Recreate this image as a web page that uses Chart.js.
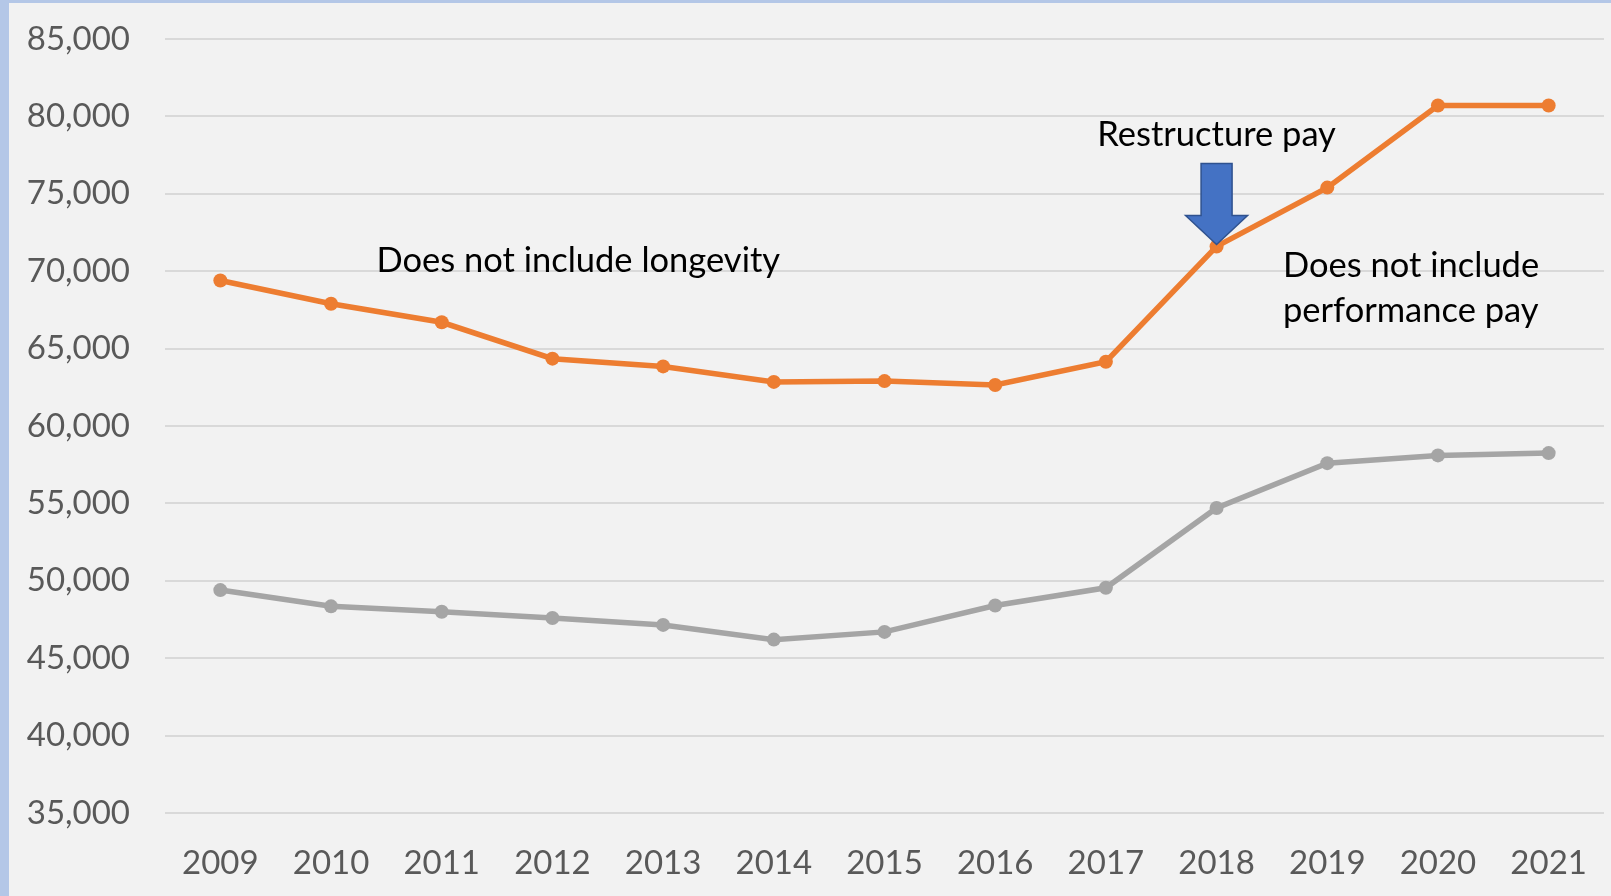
<!DOCTYPE html>
<html>
<head>
<meta charset="utf-8">
<script src="https://cdn.jsdelivr.net/npm/chart.js@4"></script>
<style>
  html, body { margin: 0; padding: 0; background: #b4c7e7; overflow: hidden; }
  #wrap { position: absolute; left: 9px; top: 3px; width: 1602px; height: 893px; background: #f2f2f2; }
  canvas { display: block; }
</style>
</head>
<body>
<div id="wrap"><canvas id="pay-chart" width="1602" height="893"></canvas></div>
<script>
// years on the x axis
let years = ['2009', '2010', '2011', '2012', '2013', '2014', '2015', '2016', '2017', '2018', '2019', '2020', '2021'];
// orange line (upper series)
let upperPay = [69400, 67900, 66700, 64350, 63850, 62850, 62900, 62650, 64150, 71600, 75400, 80700, 80700];
// grey line (lower series)
let lowerPay = [49400, 48350, 48000, 47600, 47150, 46200, 46700, 48400, 49550, 54700, 57600, 58100, 58250];
let yTicks = [35000, 40000, 45000, 50000, 55000, 60000, 65000, 70000, 75000, 80000, 85000];

let colors = ['#ed7d31', '#a5a5a5'];
let fontFamily = 'Lato, "Open Sans", sans-serif';

// notes placed in data units (category index, value)
let notes = [
    { text: 'Does not include longevity', x: 1.41, y: 69950, align: 'left' },
    { text: 'Restructure pay', x: 9, y: 78100, align: 'center' },
    { text: 'Does not include', x: 9.6, y: 69650, align: 'left' },
    { text: 'performance pay', x: 9.6, y: 66730, align: 'left' }
];

const notesPlugin = {
    id: 'notes',
    afterDatasetsDraw(chart) {
        const ctx = chart.ctx;
        const xs = chart.scales.x, ys = chart.scales.y;
        ctx.save();
        // arrow pointing at the 2018 point
        const ax = xs.getPixelForValue(9);
        const tip = ys.getPixelForValue(upperPay[9]) - 2;
        const shaftW = 31, headW = 62, headH = 29, len = 81;
        ctx.beginPath();
        ctx.moveTo(ax - shaftW / 2, tip - len);
        ctx.lineTo(ax + shaftW / 2, tip - len);
        ctx.lineTo(ax + shaftW / 2, tip - headH);
        ctx.lineTo(ax + headW / 2, tip - headH);
        ctx.lineTo(ax, tip);
        ctx.lineTo(ax - headW / 2, tip - headH);
        ctx.lineTo(ax - shaftW / 2, tip - headH);
        ctx.closePath();
        ctx.fillStyle = '#4472c4';
        ctx.fill();
        ctx.strokeStyle = '#2f528f';
        ctx.lineWidth = 1.5;
        ctx.stroke();

        ctx.fillStyle = '#000000';
        ctx.font = '34.5px ' + fontFamily;
        ctx.textBaseline = 'alphabetic';
        notes.forEach(n => {
            ctx.textAlign = n.align;
            ctx.fillText(n.text, xs.getPixelForValue(n.x), ys.getPixelForValue(n.y));
        });
        ctx.restore();
    }
};

new Chart('pay-chart', {
    type: 'line',
    data: {
        labels: years,
        datasets: [{
            data: upperPay,
            borderColor: colors[0],
            backgroundColor: colors[0],
            borderWidth: 5.5,
            pointRadius: 7,
            pointBorderWidth: 0,
            tension: 0
        }, {
            data: lowerPay,
            borderColor: colors[1],
            backgroundColor: colors[1],
            borderWidth: 5.5,
            pointRadius: 7,
            pointBorderWidth: 0,
            tension: 0
        }]
    },
    options: {
        responsive: false,
        animation: false,
        layout: {
            padding: { top: 36, right: 4, bottom: 12, left: 0 }
        },
        scales: {
            x: {
                offset: true,
                grid: { display: false, drawTicks: false },
                border: { display: false },
                ticks: {
                    color: '#595959',
                    padding: 31,
                    maxRotation: 0,
                    font: { family: fontFamily, size: 33 }
                },
                afterFit: (scale) => {
                    scale.height = 71;
                    scale.paddingLeft = 0;
                    scale.paddingRight = 0;
                }
            },
            y: {
                min: yTicks[0],
                max: yTicks[yTicks.length - 1],
                afterBuildTicks: (scale) => { scale.ticks = yTicks.map(v => ({ value: v })); },
                afterFit: (scale) => {
                    scale.width = 156;
                    scale.paddingTop = 0;
                    scale.paddingBottom = 0;
                },
                grid: { color: '#d9d9d9', lineWidth: 2, drawTicks: false },
                border: { display: false },
                ticks: {
                    color: '#595959',
                    padding: 35,
                    font: { family: fontFamily, size: 33 },
                    callback: (v) => v.toLocaleString('en-US')
                }
            }
        },
        plugins: {
            legend: { display: false },
            tooltip: { enabled: false }
        }
    },
    plugins: [notesPlugin]
});
</script>
</body>
</html>
